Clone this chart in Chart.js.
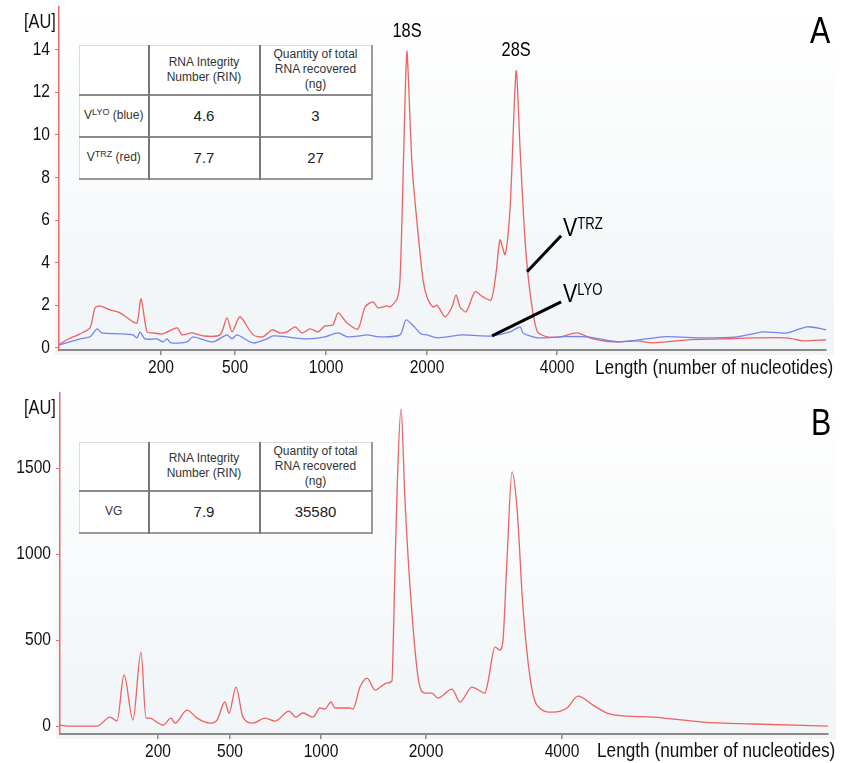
<!DOCTYPE html>
<html lang="en">
<head>
<meta charset="UTF-8">
<script src="https://cdn.jsdelivr.net/npm/chart.js"></script>
<style>
  body { margin: 0; background: #fff; }
  #wrap { position: relative; width: 841px; height: 763px; overflow: hidden; font-family: "Liberation Sans", Arial, sans-serif; }
  canvas { position: absolute; left: 0; }
  .narrow { position: absolute; font-family: "Liberation Sans", Arial, sans-serif; color: #111; white-space: nowrap;
            transform: scaleX(0.82); }
  .au { right: 785px; font-size: 20px; transform-origin: right top; }
  .panel { font-size: 37px; color: #000; transform-origin: left top; }
  .xtitle { font-size: 21px; transform-origin: left top; }
  table.rin { position: absolute; left: 79px; border-collapse: collapse; background: #fff; color: #333; table-layout: fixed;
              border-top: 1px solid #ddd; border-left: 1px solid #ddd; border-right: 2px solid #999; border-bottom: 2px solid #999; }
  table.rin td { text-align: center; padding: 0; font-size: 12px; line-height: 15px; }
  table.rin td + td { border-left: 2px solid #777; }
  table.rin tr + tr td { border-top: 2px solid #8a8a8a; }
  table.rin td.v { font-size: 15px; color: #222; }
  table.rin sup { font-size: 9px; vertical-align: 4px; line-height: 0; }
</style>
</head>
<body>
<div id="wrap">
  <canvas id="chartA" width="841" height="380" style="top:0"></canvas>
  <canvas id="chartB" width="841" height="383" style="top:380px"></canvas>

  <div class="narrow au" style="top:10px">[AU]</div>
  <div class="narrow au" style="top:396px">[AU]</div>
  <div class="narrow panel" style="left:810px; top:10px">A</div>
  <div class="narrow panel" style="left:811px; top:402px">B</div>
  <div class="narrow xtitle" style="left:595px; top:355px">Length (number of nucleotides)</div>
  <div class="narrow xtitle" style="left:597px; top:738px">Length (number of nucleotides)</div>

  <table class="rin" style="top:45px">
    <colgroup><col style="width:69px"><col style="width:111px"><col style="width:112px"></colgroup>
    <tr style="height:49px"><td></td><td>RNA Integrity<br>Number (RIN)</td><td>Quantity of total<br>RNA recovered<br>(ng)</td></tr>
    <tr style="height:42px"><td>V<sup>LYO</sup> (blue)</td><td class="v">4.6</td><td class="v">3</td></tr>
    <tr style="height:42px"><td>V<sup>TRZ</sup> (red)</td><td class="v">7.7</td><td class="v">27</td></tr>
  </table>

  <table class="rin" style="top:442px">
    <colgroup><col style="width:69px"><col style="width:111px"><col style="width:112px"></colgroup>
    <tr style="height:48px"><td></td><td>RNA Integrity<br>Number (RIN)</td><td>Quantity of total<br>RNA recovered<br>(ng)</td></tr>
    <tr style="height:42px"><td>VG</td><td class="v">7.9</td><td class="v">35580</td></tr>
  </table>
</div>

<script>
// ladder: fragment length labels and their migration times (s) in each run
const ladderLabels = ['200', '500', '1000', '2000', '4000'];
const ladderTimesA = [26.65, 31.48, 37.41, 43.99, 52.47];
const ladderTimesB = [26.38, 31.07, 36.99, 43.83, 52.68];

const ticksA = [0, 2, 4, 6, 8, 10, 12, 14];
const ticksB = [0, 500, 1000, 1500];

// panel A, V TRZ (red)
const trzTime = [20.00, 20.52, 21.37, 22.02, 22.35, 22.67, 23.33, 23.98, 24.82, 25.09, 25.35, 25.74, 26.13, 26.78,
  27.70, 28.02, 28.68, 29.39, 30.50, 30.95, 31.28, 31.80, 32.65, 33.30, 33.89, 34.41, 34.87, 35.39, 35.84, 36.37,
  36.89, 37.34, 37.86, 38.19, 38.78, 39.49, 39.95, 40.47, 40.80, 41.39, 41.58, 42.04, 42.23, 42.43, 42.59, 42.69,
  43.02, 43.34, 43.73, 43.99, 44.38, 44.65, 45.17, 45.62, 45.88, 46.15, 46.54, 47.12, 47.64, 48.17, 48.49, 48.75,
  49.08, 49.41, 49.80, 50.06, 50.38, 50.71, 51.17, 51.82, 52.67, 53.77, 54.82, 56.12, 57.69, 58.73, 60.95, 63.10,
  65.25, 67.47, 68.51, 70.00];
const trzAU = [0.14, 0.38, 0.66, 0.94, 1.88, 1.97, 1.78, 1.64, 1.22, 1.17, 2.30, 0.75, 0.70, 0.66,
  0.94, 0.61, 0.70, 0.56, 0.61, 1.41, 0.75, 1.46, 0.61, 0.52, 0.85, 0.70, 0.75, 0.99, 0.70, 0.89,
  0.75, 1.03, 1.08, 1.64, 1.17, 0.89, 1.92, 2.16, 1.88, 1.97, 1.92, 2.30, 3.2, 8.0, 12.5, 13.9,
  8.5, 5.87, 3.19, 2.39, 1.92, 2.0, 1.46, 1.92, 2.49, 1.92, 1.69, 2.63, 2.39, 2.25, 3.52, 5.07,
  4.37, 6.62, 13.0, 9.3, 5.07, 2.58, 0.78, 0.52, 0.52, 0.70, 0.42, 0.28, 0.33, 0.23, 0.38, 0.42,
  0.47, 0.47, 0.33, 0.38];

// panel A, V LYO (blue)
const lyoTime = [20.00, 20.72, 21.37, 22.02, 22.48, 22.80, 23.98, 24.82, 25.09, 25.28, 25.61, 26.39, 26.78, 27.04,
  27.30, 28.35, 28.74, 30.04, 30.95, 31.28, 31.61, 32.65, 33.56, 33.95, 34.87, 35.26, 36.17, 37.34, 38.19, 38.78,
  39.63, 40.08, 40.93, 42.23, 42.62, 43.21, 43.60, 43.99, 44.65, 45.30, 46.34, 47.45, 48.23, 49.41, 50.06, 50.25,
  51.17, 52.67, 54.43, 56.58, 59.38, 61.99, 64.21, 65.25, 65.90, 67.47, 68.77, 70.00];
const lyoAU = [0.14, 0.28, 0.42, 0.52, 0.89, 0.70, 0.66, 0.61, 0.47, 0.75, 0.42, 0.42, 0.28, 0.42,
  0.23, 0.28, 0.52, 0.28, 0.61, 0.42, 0.61, 0.23, 0.42, 0.56, 0.52, 0.47, 0.42, 0.52, 0.70, 0.52,
  0.56, 0.61, 0.52, 0.61, 1.31, 0.95, 0.65, 0.61, 0.47, 0.52, 0.61, 0.56, 0.56, 0.75, 0.99, 0.70,
  0.47, 0.52, 0.52, 0.28, 0.52, 0.47, 0.52, 0.66, 0.75, 0.70, 0.99, 0.85];

// panel B, VG (red)
const vgTime = [20.00, 20.46, 22.41, 23.26, 23.71, 24.17, 24.75, 25.27, 25.60, 25.86, 26.31, 26.71, 27.23, 27.49,
  28.27, 28.92, 29.77, 30.22, 30.74, 31.00, 31.46, 31.91, 32.56, 33.35, 34.00, 34.91, 35.36, 35.82, 36.47, 36.93,
  37.25, 37.64, 37.90, 38.88, 39.07, 39.53, 39.99, 40.51, 41.29, 41.61, 41.71, 41.81, 41.96, 42.20, 42.46, 42.79,
  43.31, 43.76, 44.22, 44.61, 45.52, 46.04, 46.82, 47.67, 47.86, 48.32, 48.64, 48.84, 49.10, 49.43, 49.75, 50.14,
  50.60, 51.05, 52.10, 53.01, 53.72, 54.70, 55.81, 58.60, 61.86, 65.11, 70.00];
const vgAU = [6, 0, 0, 52, 29, 297, 35, 430, 46, 46, 23, 6, 46, 17,
  93, 46, 17, 35, 140, 76, 227, 52, 17, 46, 29, 87, 52, 76, 52, 105,
  99, 140, 105, 105, 99, 227, 279, 209, 250, 262, 540, 924, 1410, 1843, 1314, 808,
  285, 192, 192, 163, 215, 140, 227, 192, 256, 459, 442, 500, 965, 1477, 1273, 692,
  285, 122, 81, 105, 174, 122, 70, 52, 23, 12, 0];

const FONT = '"Liberation Sans", Arial, sans-serif';
const SQUEEZE = 0.82;   // the figure uses a condensed face
const RED = 'rgba(236, 90, 90, 0.95)';
const BLUE = 'rgba(110, 125, 235, 0.95)';

const pts = (t, v) => t.map((x, i) => ({ x: x, y: v[i] }));

function narrowText(ctx, text, x, y, size, align, base) {
  ctx.save();
  ctx.translate(x, y);
  ctx.scale(SQUEEZE, 1);
  ctx.font = size + 'px ' + FONT;
  ctx.textAlign = align;
  ctx.textBaseline = base;
  ctx.fillText(text, 0, 0);
  const w = ctx.measureText(text).width * SQUEEZE;
  ctx.restore();
  return w;
}

const plotBg = {
  id: 'plotBg',
  beforeDraw(chart) {
    const { ctx, chartArea: a } = chart;
    const g = ctx.createLinearGradient(0, a.top, 0, a.bottom);
    g.addColorStop(0, '#ffffff');
    g.addColorStop(1, '#f1f5f7');
    ctx.save();
    ctx.fillStyle = g;
    ctx.fillRect(a.left - 4, a.top, a.right - a.left + 12, a.bottom - a.top + 5);
    ctx.restore();
  }
};

// tick labels drawn condensed at the positions the scales give
const tickText = {
  id: 'tickText',
  afterDraw(chart) {
    const { ctx, chartArea: a, scales: { x, y } } = chart;
    ctx.save();
    ctx.fillStyle = '#111';
    x.ticks.forEach((t, i) => narrowText(ctx, ladderLabels[i], x.getPixelForValue(t.value), a.bottom + 8, 19, 'center', 'top'));
    y.ticks.forEach(t => narrowText(ctx, String(t.value), a.left - 9, y.getPixelForValue(t.value), 19, 'right', 'middle'));
    ctx.restore();
  }
};

// text labels and pointer lines, anchored in data units
const notes = {
  id: 'notes',
  afterDatasetsDraw(chart, args, opts) {
    const { ctx, scales: { x, y } } = chart;
    ctx.save();
    ctx.fillStyle = '#000';
    ctx.strokeStyle = '#000';
    (opts.peaks || []).forEach(p => {
      narrowText(ctx, p.text, x.getPixelForValue(p.t), y.getPixelForValue(p.au) - 20, 20, 'center', 'middle');
    });
    (opts.pointers || []).forEach(p => {
      ctx.lineWidth = 3;
      ctx.beginPath();
      ctx.moveTo(x.getPixelForValue(p.from[0]), y.getPixelForValue(p.from[1]));
      ctx.lineTo(x.getPixelForValue(p.to[0]), y.getPixelForValue(p.to[1]));
      ctx.stroke();
      const lx = x.getPixelForValue(p.to[0]) + 2;
      const ly = y.getPixelForValue(p.to[1]);
      const w = narrowText(ctx, 'V', lx, ly, 26, 'left', 'alphabetic');
      narrowText(ctx, p.sup, lx + w, ly - 7, 16, 'left', 'alphabetic');
    });
    ctx.restore();
  }
};

function makeChart(id, datasets, cfg) {
  return new Chart(document.getElementById(id), {
    type: 'line',
    data: { datasets: datasets },
    plugins: [plotBg, notes, tickText],
    options: {
      responsive: false,
      animation: false,
      devicePixelRatio: 1,
      layout: { padding: { top: cfg.top, right: cfg.right, left: 0, bottom: 0 } },
      elements: { point: { radius: 0 }, line: { borderWidth: 1.3 } },
      plugins: { legend: { display: false }, tooltip: { enabled: false }, notes: cfg.notes },
      scales: {
        x: {
          type: 'linear', min: 20, max: 70,
          afterFit: s => { s.height = cfg.xh; },
          afterBuildTicks: s => { s.ticks = cfg.ladder.map(v => ({ value: v })); },
          ticks: { display: false, autoSkip: false },
          grid: { drawOnChartArea: false, drawTicks: true, tickLength: 5, color: '#8a8a8a', lineWidth: 1.5 },
          border: { color: '#8a8a8a', width: 2 }
        },
        y: {
          min: cfg.ymin, max: cfg.ymax,
          afterFit: s => { s.width = cfg.yw; },
          afterBuildTicks: s => { s.ticks = cfg.yticks.map(v => ({ value: v })); },
          ticks: { display: false },
          grid: { drawOnChartArea: false, drawTicks: true, tickLength: 4, color: 'rgba(236, 90, 90, 0.9)' },
          border: { color: 'rgba(236, 90, 90, 0.9)', width: 1.5 }
        }
      }
    }
  });
}

makeChart('chartA', [
  { data: pts(lyoTime, lyoAU), borderColor: BLUE, tension: 0.25 },
  { data: pts(trzTime, trzAU), borderColor: RED, tension: 0.25 }
], {
  top: 7, right: 15, xh: 30, yw: 59, ymin: -0.1, ymax: 16,
  ladder: ladderTimesA, yticks: ticksA,
  notes: {
    peaks: [{ text: '18S', t: 42.69, au: 13.9 }, { text: '28S', t: 49.80, au: 13.0 }],
    pointers: [
      { from: [50.51, 3.57], to: [52.73, 5.26], sup: 'TRZ' },
      { from: [48.23, 0.56], to: [52.73, 2.16], sup: 'LYO' }
    ]
  }
});

makeChart('chartB', [
  { data: pts(vgTime, vgAU), borderColor: RED, cubicInterpolationMode: 'monotone' }
], {
  top: 13, right: 13, xh: 29, yw: 60, ymin: -46, ymax: 1936,
  ladder: ladderTimesB, yticks: ticksB,
  notes: {}
});
</script>
</body>
</html>
